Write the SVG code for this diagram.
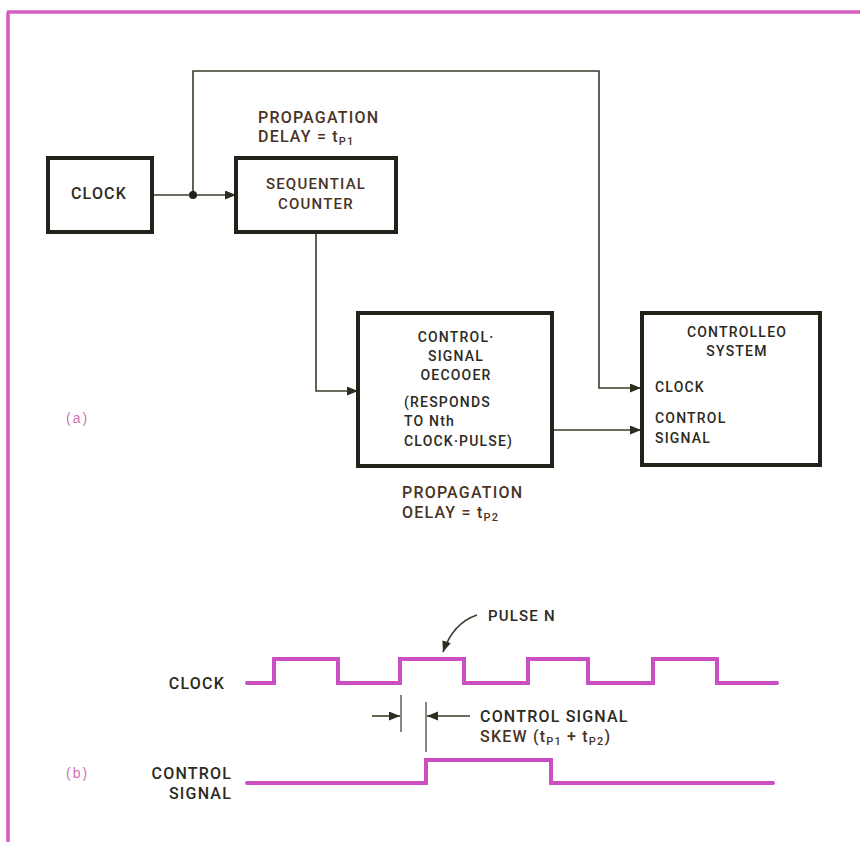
<svg xmlns="http://www.w3.org/2000/svg" width="860" height="842" viewBox="0 0 860 842">
<defs>
<marker id="ah" markerUnits="userSpaceOnUse" markerWidth="12" markerHeight="10" refX="11" refY="4.5" orient="auto">
<path d="M0,0 L11,4.5 L0,9 z" fill="#2e2d20"/>
</marker>
<style>
.box{fill:#fff;stroke:#23221a;stroke-width:4}
.t{font-family:Roboto,"Liberation Sans",Arial,sans-serif;font-weight:500;fill:#2c2a1f;letter-spacing:1.2px}
.br{fill:#4b3326}
.c{text-anchor:middle}
.e{text-anchor:end}
.wire{fill:none;stroke:#3b3b2b;stroke-width:1.6}
.wave{fill:none;stroke:#cc4fc2;stroke-width:4;stroke-linejoin:miter;stroke-linecap:round}
.lab{font-family:"Liberation Sans",Arial,sans-serif;fill:#d070b8;font-size:14px;letter-spacing:2px}
.sub{font-size:11px}
</style>
</defs>
<rect width="860" height="842" fill="#fff"/>
<g id="frame">
<path d="M7,12 H860 M8,12 V842" fill="none" stroke="#d65cc0" stroke-width="3.5"/>
</g>

<g id="connectors">
<path class="wire" d="M152,195 H236" marker-end="url(#ah)"/>
<path class="wire" d="M193,195 V71 H599 V388 H641" marker-end="url(#ah)"/>
<path class="wire" d="M316,232 V391 H358" marker-end="url(#ah)"/>
<path class="wire" d="M552,430 H641" marker-end="url(#ah)"/>
<circle cx="193" cy="195" r="4" fill="#23221a"/>
</g>

<g id="clock">
<rect class="box" x="48" y="158" width="104" height="74"/>
<text class="t c" x="99" y="199" font-size="16">CLOCK</text>
</g>

<g id="counter">
<rect class="box" x="236" y="158" width="160" height="74"/>
<text class="t br c" x="316" y="189" font-size="15">SEQUENTIAL</text>
<text class="t br c" x="316" y="209" font-size="15">COUNTER</text>
</g>

<g id="delay1">
<text class="t br" x="258" y="123" font-size="16" letter-spacing="1">PROPAGATION</text>
<text class="t br" x="258" y="142" font-size="16" letter-spacing="1">DELAY = t<tspan class="sub" dy="3">P1</tspan></text>
</g>

<g id="decoder">
<rect class="box" x="358" y="313" width="194" height="153"/>
<text class="t c" x="456" y="342" font-size="14">CONTROL·</text>
<text class="t c" x="456" y="361" font-size="14">SIGNAL</text>
<text class="t c" x="456" y="380" font-size="14">OECOOER</text>
<text class="t" x="404" y="407" font-size="14">(RESPONDS</text>
<text class="t" x="404" y="426" font-size="14">TO Nth</text>
<text class="t" x="404" y="446" font-size="14">CLOCK·PULSE)</text>
</g>

<g id="delay2">
<text class="t br" x="402" y="498" font-size="16" letter-spacing="1">PROPAGATION</text>
<text class="t br" x="402" y="518" font-size="16" letter-spacing="1">OELAY = t<tspan class="sub" dy="3">P2</tspan></text>
</g>

<g id="controlled">
<rect class="box" x="642" y="313" width="178" height="152"/>
<text class="t c" x="737" y="337" font-size="14" letter-spacing="1.6">CONTROLLEO</text>
<text class="t c" x="737" y="356" font-size="14" letter-spacing="1.6">SYSTEM</text>
<text class="t" x="655" y="392" font-size="14" letter-spacing="1.6">CLOCK</text>
<text class="t" x="655" y="423" font-size="14" letter-spacing="1.6">CONTROL</text>
<text class="t" x="655" y="443" font-size="14" letter-spacing="1.6">SIGNAL</text>
</g>

<text class="lab" x="66" y="423">(a)</text>
<text class="lab" x="66" y="778">(b)</text>

<g id="timing">
<text class="t e" x="225" y="689" font-size="16">CLOCK</text>
<text class="t e" x="232" y="779" font-size="16">CONTROL</text>
<text class="t e" x="232" y="799" font-size="16">SIGNAL</text>
<path class="wave" d="M247,683 H274 V659 H338 V683 H400 V659 H464 V683 H528 V659 H588 V683 H653 V659 H717 V683 H777"/>
<path class="wave" d="M247,783 H426 V760 H551 V783 H773"/>
<text class="t" x="488" y="621" font-size="15">PULSE N</text>
<path class="wire" d="M477,615 C462,620 450,632 443,652" marker-end="url(#ah)"/>
<path d="M401,695 V732 M426,702 V752" stroke="#3b3b2b" stroke-width="1.2"/>
<path class="wire" d="M372,716 H400" marker-end="url(#ah)"/>
<path class="wire" d="M470,716 H427" marker-end="url(#ah)"/>
<text class="t" x="480" y="722" font-size="16">CONTROL SIGNAL</text>
<text class="t br" x="480" y="742" font-size="16">SKEW (t<tspan class="sub" dy="3">P1</tspan><tspan dy="-3"> + t</tspan><tspan class="sub" dy="3">P2</tspan><tspan dy="-3">)</tspan></text>
</g>
</svg>
